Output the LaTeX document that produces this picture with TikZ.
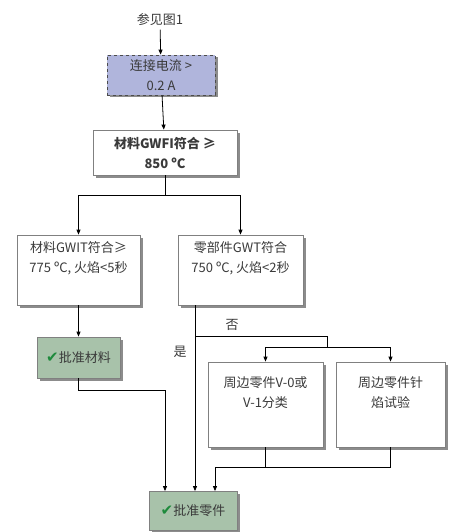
\documentclass[tikz,border=0pt]{standalone}
\usepackage{fontspec}
\setmainfont{Noto Sans CJK SC}
\newfontfamily\symf{DejaVu Sans}
\usetikzlibrary{arrows.meta,shadows}
\definecolor{txt}{HTML}{3A3A3A}
\definecolor{lav}{HTML}{B0B5DC}
\definecolor{grn}{HTML}{A8C2AA}
\definecolor{bdr}{HTML}{808080}
\definecolor{chk}{HTML}{1E8A3C}
\tikzset{
  box/.style={draw=bdr, fill=white, line width=0.8pt, align=center, text=txt,
    font=\fontsize{13}{20}\selectfont, inner sep=2pt,
    drop shadow={shadow xshift=2.5pt, shadow yshift=-2.5pt, fill=black!45, opacity=1}},
  dashbox/.style={box, draw=black!70, dashed, fill=lav},
  okbox/.style={box, fill=grn},
  lbl/.style={text=txt, font=\fontsize{13}{16}\selectfont},
  conn/.style={line width=0.8pt, -{Triangle[length=5pt,width=4pt]}},
  plain/.style={line width=0.8pt}
}
\begin{document}
\begin{tikzpicture}[x=1pt,y=-1pt]
\useasboundingbox (0,0) rectangle (452,532);
\node[lbl] (ref) at (160,20) {参见图1};
\node[dashbox, minimum width=108pt, minimum height=40pt] (cur) at (161,75) {连接电流 >\\0.2 A};
\node[box, minimum width=144pt, minimum height=45pt, font=\bfseries\fontsize{13}{20}\selectfont] (gwfi) at (165,152.5) {材料GWFI符合 ≥\\850 ºC};
\node[box, minimum width=123pt, minimum height=70pt] (gwit) at (78.5,270) {材料GWIT符合≥\\775 ºC, 火焰<5秒\\\strut};
\node[box, minimum width=125pt, minimum height=70pt] (gwt) at (240.5,270) {零部件GWT符合\\750 ºC, 火焰<2秒\\\strut};
\node[okbox, minimum width=83pt, minimum height=41pt] (ok1) at (78.5,357.5) {{\color{chk}\symf\fontsize{15}{15}\selectfont ✔}批准材料};
\node[box, minimum width=115pt, minimum height=85pt] (v0) at (265.5,404.5) {周边零件V-0或\\V-1分类\\[4pt]};
\node[box, minimum width=109pt, minimum height=85pt] (needle) at (390.5,404.5) {周边零件针\\焰试验\\[4pt]};
\node[okbox, minimum width=88pt, minimum height=39pt] (ok2) at (193,511) {{\color{chk}\symf\fontsize{15}{15}\selectfont ✔}批准零件};
\node[lbl] (no) at (232,325) {否};
\node[lbl] (yes) at (180,352) {是};
% connectors
\draw[conn] (ref) -- (cur);
\draw[conn] (cur) -- (gwfi);
\coordinate (s1) at (165,195);
\draw[plain] (gwfi.south) -- (s1);
\draw[conn] (s1) -| (gwit.north);
\draw[conn] (s1) -| (gwt.north);
\draw[conn] (gwit.south) -- (ok1.north);
\coordinate (b1) at (195,305);
\draw[conn] (b1) -- (b1 |- ok2.north);
\coordinate (b2) at (195,336);
\coordinate (b3) at (327,336);
\coordinate (b4) at (327,347);
\draw[plain] (b2) -- (b3) -- (b4);
\draw[conn] (b4) -| (v0.north);
\draw[conn] (b4) -| (needle.north);
\coordinate (m) at (215,467);
\draw[plain] (v0.south) -- (v0.south |- m);
\draw[plain] (needle.south) |- (m);
\draw[conn] (m) -- (m |- ok2.north);
\coordinate (l1) at (165,390);
\draw[conn] (ok1.south) |- (l1) -- (l1 |- ok2.north);
\end{tikzpicture}
\end{document}
